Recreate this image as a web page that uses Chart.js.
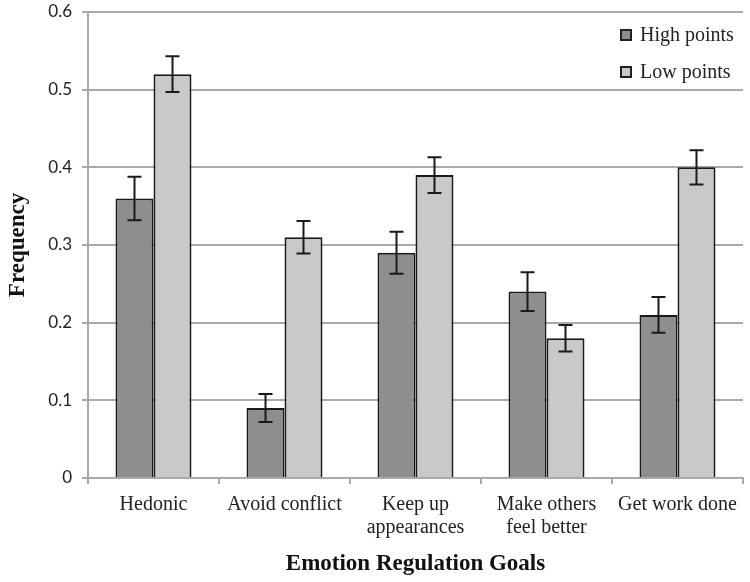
<!DOCTYPE html>
<html>
<head>
<meta charset="utf-8">
<script src="https://cdn.jsdelivr.net/npm/chart.js@4"></script>
<style>
    html, body { margin: 0; padding: 0; background: #fff; }
    #wrap { width: 750px; height: 582px; }
</style>
</head>
<body>
<div id="wrap"><canvas id="chart" width="750" height="582"></canvas></div>
<script>
const categories = ['Hedonic', 'Avoid conflict', ['Keep up', 'appearances'], ['Make others', 'feel better'], 'Get work done'];
const highPoints = [0.36, 0.09, 0.29, 0.24, 0.21];
const lowPoints = [0.52, 0.31, 0.39, 0.18, 0.40];
const highErr = [0.028, 0.018, 0.027, 0.025, 0.023];
const lowErr = [0.023, 0.021, 0.023, 0.017, 0.022];
const yTicks = [0, 0.1, 0.2, 0.3, 0.4, 0.5, 0.6];

const serif = '"Liberation Serif", "Times New Roman", serif';

// error bars drawn on top of each bar using the chart's own scales
const errorBars = {
    id: 'errorBars',
    afterDatasetsDraw(chart) {
        const ctx = chart.ctx;
        const y = chart.scales.y;
        const errs = [highErr, lowErr];
        ctx.save();
        ctx.strokeStyle = '#1a1a1a';
        ctx.lineWidth = 2;
        chart.data.datasets.forEach((ds, di) => {
            chart.getDatasetMeta(di).data.forEach((bar, i) => {
                const v = ds.data[i];
                const top = y.getPixelForValue(v + errs[di][i]);
                const bot = y.getPixelForValue(v - errs[di][i]);
                const cap = 7;
                ctx.beginPath();
                ctx.moveTo(bar.x, top); ctx.lineTo(bar.x, bot);
                ctx.moveTo(bar.x - cap, top); ctx.lineTo(bar.x + cap, top);
                ctx.moveTo(bar.x - cap, bot); ctx.lineTo(bar.x + cap, bot);
                ctx.stroke();
            });
        });
        ctx.restore();
    }
};

// legend in the top right corner of the plot
const cornerLegend = {
    id: 'cornerLegend',
    afterDraw(chart) {
        const ctx = chart.ctx;
        const area = chart.chartArea;
        ctx.save();
        ctx.font = '20px ' + serif;
        ctx.textBaseline = 'middle';
        chart.data.datasets.forEach((ds, i) => {
            const ly = area.top + 23 + i * 37;
            const lx = area.right - 122;
            ctx.fillStyle = ds.backgroundColor;
            ctx.strokeStyle = '#222';
            ctx.lineWidth = 2;
            ctx.fillRect(lx, ly - 5, 10, 10);
            ctx.strokeRect(lx, ly - 5, 10, 10);
            ctx.fillStyle = '#222';
            ctx.fillText(ds.label, lx + 19, ly + 1);
        });
        ctx.restore();
    }
};

new Chart(document.getElementById('chart').getContext('2d'), {
    type: 'bar',
    data: {
        labels: categories,
        datasets: [
            { label: 'High points', data: highPoints, backgroundColor: '#8e8e8e', borderColor: '#1a1a1a', borderWidth: 2 },
            { label: 'Low points', data: lowPoints, backgroundColor: '#c9c9c9', borderColor: '#1a1a1a', borderWidth: 2 }
        ]
    },
    options: {
        responsive: false,
        animation: false,
        devicePixelRatio: 1,
        layout: { padding: { top: 0, right: 7, left: 0, bottom: 0 } },
        datasets: { bar: { categoryPercentage: 0.58, barPercentage: 1.0 } },
        plugins: { legend: { display: false }, tooltip: { enabled: false } },
        scales: {
            x: {
                afterFit: s => { s.height = 104; },
                grid: { drawOnChartArea: false, drawTicks: true, tickLength: 6, offset: true, color: '#aaa', lineWidth: 2 },
                border: { color: '#aaa', width: 2 },
                ticks: { color: '#222', font: { family: serif, size: 20, lineHeight: 1.15 }, padding: 9, maxRotation: 0, autoSkip: false },
                title: { display: true, text: 'Emotion Regulation Goals', color: '#111', font: { family: serif, size: 23, weight: 'bold' }, padding: { top: 12 } }
            },
            y: {
                min: 0, max: 0.6,
                afterFit: s => { s.width = 88; s.paddingTop = 12; },
                afterBuildTicks: s => { s.ticks = yTicks.map(v => ({ value: v })); },
                grid: { color: '#aaa', lineWidth: 2, tickLength: 6 },
                border: { color: '#aaa', width: 2 },
                ticks: { color: '#222', font: { family: 'Lato, sans-serif', size: 17 }, padding: 10, callback: v => String(Math.round(v * 10) / 10) },
                title: { display: true, text: 'Frequency', color: '#111', font: { family: serif, size: 23, weight: 'bold' }, padding: { bottom: 2 } }
            }
        }
    },
    plugins: [errorBars, cornerLegend]
});
</script>
</body>
</html>
